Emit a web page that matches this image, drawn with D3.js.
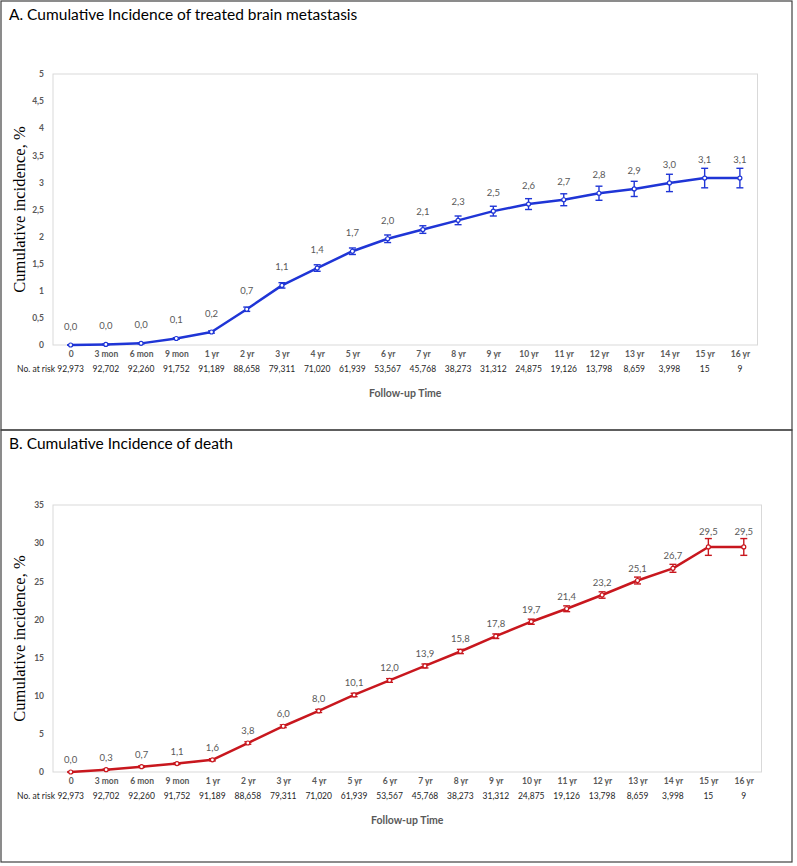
<html>
<head>
	<script src="https://d3js.org/d3.v7.min.js"></script>
	<style type="text/css">
		body { margin: 0; background: #fff; }
		svg text { font-family: Lato, "Open Sans", sans-serif; }
	</style>
</head>
<body>
	<div id="chart"></div>
	<script type="text/javascript">
		var categories = ["0","3 mon","6 mon","9 mon","1 yr","2 yr","3 yr","4 yr","5 yr","6 yr","7 yr","8 yr","9 yr","10 yr","11 yr","12 yr","13 yr","14 yr","15 yr","16 yr"];
		var atRisk = ["92,973","92,702","92,260","91,752","91,189","88,658","79,311","71,020","61,939","53,567","45,768","38,273","31,312","24,875","19,126","13,798","8,659","3,998","15","9"];

		var brainMet = [0, 0.01, 0.03, 0.12, 0.24, 0.66, 1.10, 1.42, 1.73, 1.96, 2.13, 2.30, 2.47, 2.60, 2.68, 2.80, 2.88, 2.99, 3.08, 3.08];
		var brainMetErr = [0.005, 0.01, 0.01, 0.015, 0.02, 0.04, 0.05, 0.06, 0.06, 0.07, 0.07, 0.08, 0.09, 0.10, 0.11, 0.13, 0.14, 0.16, 0.18, 0.18];
		var brainTicks = [0, 0.5, 1, 1.5, 2, 2.5, 3, 3.5, 4, 4.5, 5];

		var death = [0, 0.3, 0.7, 1.1, 1.6, 3.8, 6.0, 8.0, 10.1, 12.0, 13.9, 15.8, 17.8, 19.7, 21.4, 23.2, 25.1, 26.7, 29.5, 29.5];
		var deathErr = [0.05, 0.08, 0.1, 0.12, 0.14, 0.16, 0.18, 0.2, 0.22, 0.24, 0.26, 0.28, 0.3, 0.34, 0.38, 0.42, 0.45, 0.52, 1.1, 1.1];
		var deathTicks = [0, 5, 10, 15, 20, 25, 30, 35];

		var W = 797, H = 866;
		var fmt = function(v) { return d3.format(".1f")(v).replace(".", ","); };
		var fmtTick = function(v) { return String(v).replace(".", ","); };

		var svg = d3.select("#chart").append("svg")
			.attr("width", W)
			.attr("height", H);

		function drawPanel(p) {
			var g = svg.append("g");
			g.append("rect")
				.attr("x", 1).attr("y", p.boxTop)
				.attr("width", 791).attr("height", p.boxBottom - p.boxTop)
				.attr("fill", "none")
				.attr("stroke", "#404040")
				.attr("stroke-width", 1.2);
			g.append("text")
				.attr("x", 9).attr("y", p.boxTop + 19)
				.attr("font-size", 15.5)
				.attr("fill", "#000")
				.text(p.title);

			var x = d3.scalePoint().domain(categories).range([53, p.right]).padding(0.5);
			var y = d3.scaleLinear().domain([0, p.max]).range([p.bottom, p.top]);

			g.append("rect")
				.attr("x", 53).attr("y", p.top)
				.attr("width", p.right - 53).attr("height", p.bottom - p.top)
				.attr("fill", "none")
				.attr("stroke", "#d9d9d9")
				.attr("stroke-width", 1);

			var yAxis = g.append("g")
				.attr("transform", "translate(53,0)")
				.call(d3.axisLeft(y).tickValues(p.ticks).tickFormat(fmtTick).tickSize(0).tickPadding(9));
			yAxis.select(".domain").remove();
			yAxis.selectAll("text")
				.attr("font-size", 8.5)
				.attr("font-weight", "bold")
				.attr("fill", "#595959")
				.style("font-family", "Lato, sans-serif");

			var xAxis = g.append("g")
				.attr("transform", "translate(0," + p.bottom + ")")
				.call(d3.axisBottom(x).tickSize(0).tickPadding(6));
			xAxis.select(".domain").remove();
			xAxis.selectAll("text")
				.attr("font-size", 8.5)
				.attr("font-weight", "bold")
				.attr("fill", "#595959")
				.style("font-family", "Lato, sans-serif");

			g.selectAll(".risk").data(atRisk).enter().append("text")
				.attr("class", "risk")
				.attr("x", function(d, i) { return x(categories[i]); })
				.attr("y", p.bottom + 27)
				.attr("text-anchor", "middle")
				.attr("font-size", 8.5)
				.attr("fill", "#262626")
				.text(function(d) { return d; });
			g.append("text")
				.attr("x", 55).attr("y", p.bottom + 27)
				.attr("text-anchor", "end")
				.attr("font-size", 8.5)
				.attr("fill", "#262626")
				.text("No. at risk");

			g.append("text")
				.attr("x", (53 + p.right) / 2).attr("y", p.bottom + 52)
				.attr("text-anchor", "middle")
				.attr("font-size", 10.5)
				.attr("font-weight", "bold")
				.attr("fill", "#595959")
				.text("Follow-up Time");

			g.append("text")
				.attr("transform", "translate(25," + ((p.top + p.bottom) / 2) + ") rotate(-90)")
				.attr("text-anchor", "middle")
				.attr("font-size", 16.5)
				.attr("fill", "#000")
				.style("font-family", "'Liberation Serif', 'DejaVu Serif', serif")
				.text("Cumulative incidence, %");

			var line = d3.line()
				.x(function(d, i) { return x(categories[i]); })
				.y(function(d) { return y(d); });
			g.append("path")
				.datum(p.values)
				.attr("d", line)
				.attr("fill", "none")
				.attr("stroke", p.color)
				.attr("stroke-width", 2.5)
				.attr("stroke-linejoin", "round");

			var eb = g.selectAll(".err").data(p.values).enter().append("g").attr("class", "err");
			eb.append("line")
				.attr("x1", function(d, i) { return x(categories[i]); })
				.attr("x2", function(d, i) { return x(categories[i]); })
				.attr("y1", function(d, i) { return y(d + p.err[i]); })
				.attr("y2", function(d, i) { return y(d - p.err[i]); });
			eb.append("line")
				.attr("x1", function(d, i) { return x(categories[i]) - 3.5; })
				.attr("x2", function(d, i) { return x(categories[i]) + 3.5; })
				.attr("y1", function(d, i) { return y(d + p.err[i]); })
				.attr("y2", function(d, i) { return y(d + p.err[i]); });
			eb.append("line")
				.attr("x1", function(d, i) { return x(categories[i]) - 3.5; })
				.attr("x2", function(d, i) { return x(categories[i]) + 3.5; })
				.attr("y1", function(d, i) { return y(d - p.err[i]); })
				.attr("y2", function(d, i) { return y(d - p.err[i]); });
			eb.selectAll("line")
				.attr("stroke", p.color)
				.attr("stroke-width", 1.4);

			g.selectAll(".pt").data(p.values).enter().append("circle")
				.attr("class", "pt")
				.attr("cx", function(d, i) { return x(categories[i]); })
				.attr("cy", function(d) { return y(d); })
				.attr("r", 2)
				.attr("fill", "#fff")
				.attr("stroke", p.color)
				.attr("stroke-width", 1.2);

			g.selectAll(".lbl").data(p.values).enter().append("text")
				.attr("class", "lbl")
				.attr("x", function(d, i) { return x(categories[i]); })
				.attr("y", function(d, i) {
					var e = y(d) - y(d + p.err[i]);
					return y(d) - Math.max(p.labelOffset, e + 7) + 3;
				})
				.attr("text-anchor", "middle")
				.attr("font-size", 9.5)
				.attr("fill", "#595959")
				.text(function(d) { return fmt(d); });
		}

		drawPanel({
			title: "A. Cumulative Incidence of treated brain metastasis",
			boxTop: 1, boxBottom: 430,
			top: 74, bottom: 345, right: 757.5,
			max: 5, ticks: brainTicks,
			values: brainMet, err: brainMetErr,
			color: "#1f35d6", labelOffset: 18
		});
		drawPanel({
			title: "B. Cumulative Incidence of death",
			boxTop: 430, boxBottom: 862,
			top: 505, bottom: 772, right: 761.5,
			max: 35, ticks: deathTicks,
			values: death, err: deathErr,
			color: "#c8171e", labelOffset: 12
		});
	</script>
</body>
</html>
